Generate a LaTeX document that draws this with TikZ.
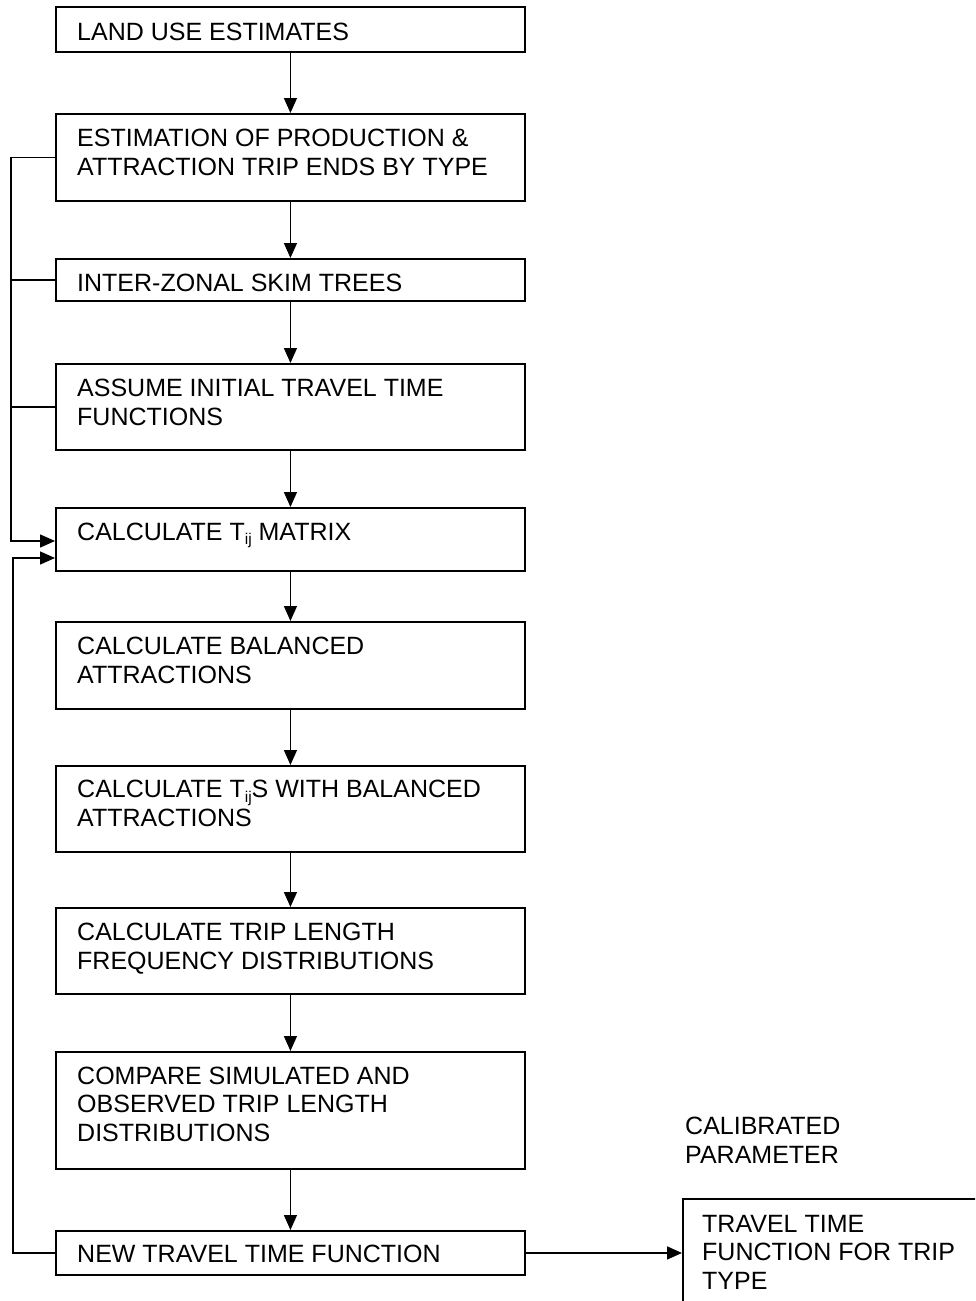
\documentclass[tikz,border=0pt]{standalone}
\usepackage{fontspec}
\setmainfont{Liberation Sans}
\usetikzlibrary{arrows.meta,calc}
\newcommand{\sbij}{\raisebox{-0.35ex}{\fontsize{15.5}{15.5}\selectfont ij}}
\begin{document}
\begin{tikzpicture}[x=1pt,y=-1pt,
  box/.style={draw, line width=1.9pt, rectangle, inner sep=0pt, minimum width=469pt, anchor=north west},
  txt/.style={inner sep=0pt, anchor=base west, align=left, font=\fontsize{25}{28.3}\selectfont},
  flow/.style={line width=1.5pt, -{Triangle[length=15pt,width=13pt]}},
  plain/.style={line width=1.5pt}]
\clip (0,0) rectangle (975,1301);
\fill[white] (0,0) rectangle (975,1301);
\node[box, minimum height=45pt]  (b1)  at (55,6) {};
\node[box, minimum height=87pt]  (b2)  at (55,113) {};
\node[box, minimum height=42pt]  (b3)  at (55,258) {};
\node[box, minimum height=86pt]  (b4)  at (55,363) {};
\node[box, minimum height=63pt]  (b5)  at (55,507) {};
\node[box, minimum height=87pt]  (b6)  at (55,621) {};
\node[box, minimum height=86pt]  (b7)  at (55,765) {};
\node[box, minimum height=86pt]  (b8)  at (55,907) {};
\node[box, minimum height=117pt] (b9)  at (55,1051) {};
\node[box, minimum height=44pt]  (b10) at (55,1230) {};
\node[box, minimum width=330pt, minimum height=140pt] (b11) at (682,1198) {};

% anchor base west = baseline of the LAST line
\node[txt] (t1)  at ($(b1.north west)+(22,34)$) {LAND USE ESTIMATES};
\node[txt] (t2)  at ($(b2.north west)+(22,62)$) {ESTIMATION OF PRODUCTION \&\\ATTRACTION TRIP ENDS BY TYPE};
\node[txt] (t3)  at ($(b3.north west)+(22,33)$) {INTER-ZONAL SKIM TREES};
\node[txt] (t4)  at ($(b4.north west)+(22,62)$) {ASSUME INITIAL TRAVEL TIME\\FUNCTIONS};
\node[txt] (t5)  at ($(b5.north west)+(22,33)$) {CALCULATE T\sbij{} MATRIX};
\node[txt] (t6)  at ($(b6.north west)+(22,62)$) {CALCULATE BALANCED\\ATTRACTIONS};
\node[txt] (t7)  at ($(b7.north west)+(22,61)$) {CALCULATE T\sbij S WITH BALANCED\\ATTRACTIONS};
\node[txt] (t8)  at ($(b8.north west)+(22,62)$) {CALCULATE TRIP LENGTH\\FREQUENCY DISTRIBUTIONS};
\node[txt] (t9)  at ($(b9.north west)+(22,90)$) {COMPARE SIMULATED AND\\OBSERVED TRIP LENGTH\\DISTRIBUTIONS};
\node[txt] (t10) at ($(b10.north west)+(22,32)$) {NEW TRAVEL TIME FUNCTION};
\node[txt] (t11) at ($(b11.north west)+(20,91)$) {TRAVEL TIME\\FUNCTION FOR TRIP\\TYPE};
\node[txt] (cal) at (685,1163) {CALIBRATED\\PARAMETER};

\draw[flow] (b1.south) -- (b2.north);
\draw[flow] (b2.south) -- (b3.north);
\draw[flow] (b3.south) -- (b4.north);
\draw[flow] (b4.south) -- (b5.north);
\draw[flow] (b5.south) -- (b6.north);
\draw[flow] (b6.south) -- (b7.north);
\draw[flow] (b7.south) -- (b8.north);
\draw[flow] (b8.south) -- (b9.north);
\draw[flow] (b9.south) -- (b10.north);
\draw[flow] (b10.east) -- (b10.east -| b11.west);

\coordinate (l1) at (11,0);
\coordinate (l2) at (13,0);
\coordinate (f1) at ($(b5.north west)+(0,34)$);
\coordinate (f2) at ($(b5.north west)+(0,51)$);
\draw[flow] (b2.west) -- (b2.west -| l1) -- (f1 -| l1) -- (f1);
\draw[plain] (b3.west) -- (b3.west -| l1);
\draw[plain] (b4.west) -- (b4.west -| l1);
\draw[flow] (b10.west) -- (b10.west -| l2) -- (f2 -| l2) -- (f2);
\end{tikzpicture}
\end{document}
